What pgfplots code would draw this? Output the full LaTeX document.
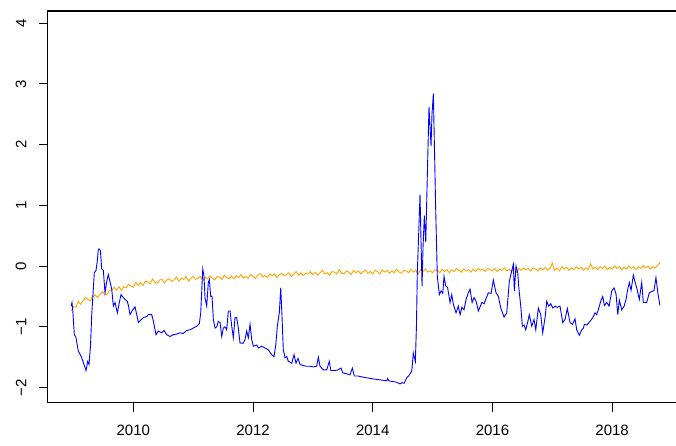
\documentclass[border=0pt]{standalone}
\usepackage{fontspec}
\setmainfont{Liberation Sans}
\usepackage{pgfplots}
\pgfplotsset{compat=1.18}
\usetikzlibrary{calc}
\definecolor{rblue}{RGB}{0,0,255}
\definecolor{rorange}{RGB}{255,165,0}
\begin{document}
\fontsize{15}{18}\selectfont
\begin{tikzpicture}
\begin{axis}[name=ax, at={(0,0)}, anchor=south west,
  scale only axis, width=636.1pt, height=391.7pt,
  xmin=2008.566, xmax=2019.194, ymin=-2.25, ymax=4.2,
  axis line style={line width=1pt},
  xtick={2010,2012,2014,2016,2018},
  xticklabels={2010,2012,2014,2016,2018},
  ytick={-2,-1,0,1,2,3,4},
  yticklabels={−2,−1,0,1,2,3,4},
  tick align=outside, major tick length=9pt,
  tick style={black, line width=0.8pt},
  xtick pos=left, ytick pos=left,
  /pgf/number format/assume math mode=true,
  xticklabel style={anchor=north, inner sep=0pt},
  yticklabel style={rotate=90, anchor=south, inner sep=0pt},
  xticklabel shift=13pt, yticklabel shift=12pt,
]
\addplot[rorange, line width=0.9pt] coordinates {
(2008.96,-0.74)(2009.00,-0.67)(2009.04,-0.68)(2009.08,-0.58)(2009.12,-0.63)(2009.16,-0.57)(2009.20,-0.52)(2009.24,-0.55)(2009.28,-0.57)(2009.32,-0.50)
(2009.36,-0.47)(2009.40,-0.52)(2009.44,-0.47)(2009.48,-0.42)(2009.52,-0.46)(2009.56,-0.47)(2009.60,-0.40)(2009.64,-0.39)(2009.68,-0.35)(2009.72,-0.40)
(2009.76,-0.34)(2009.80,-0.40)(2009.84,-0.34)(2009.88,-0.36)(2009.92,-0.30)(2009.96,-0.33)(2010.00,-0.35)(2010.04,-0.27)(2010.08,-0.32)(2010.12,-0.27)
(2010.16,-0.32)(2010.20,-0.25)(2010.24,-0.26)(2010.28,-0.29)(2010.32,-0.21)(2010.36,-0.27)(2010.40,-0.28)(2010.44,-0.23)(2010.48,-0.22)(2010.52,-0.28)
(2010.56,-0.23)(2010.60,-0.21)(2010.64,-0.25)(2010.68,-0.23)(2010.72,-0.18)(2010.76,-0.25)(2010.80,-0.20)(2010.84,-0.22)(2010.88,-0.17)(2010.92,-0.25)
(2010.96,-0.20)(2011.00,-0.17)(2011.04,-0.22)(2011.08,-0.20)(2011.12,-0.17)(2011.16,-0.24)(2011.20,-0.18)(2011.24,-0.21)(2011.28,-0.16)(2011.32,-0.20)
(2011.36,-0.23)(2011.40,-0.17)(2011.44,-0.18)(2011.48,-0.22)(2011.52,-0.15)(2011.56,-0.19)(2011.60,-0.21)(2011.64,-0.16)(2011.68,-0.21)(2011.72,-0.16)
(2011.76,-0.19)(2011.80,-0.14)(2011.84,-0.20)(2011.88,-0.17)(2011.92,-0.20)(2011.96,-0.14)(2012.00,-0.17)(2012.04,-0.20)(2012.08,-0.15)(2012.12,-0.12)
(2012.16,-0.18)(2012.20,-0.15)(2012.24,-0.19)(2012.28,-0.13)(2012.32,-0.16)(2012.36,-0.13)(2012.40,-0.19)(2012.44,-0.14)(2012.48,-0.12)(2012.52,-0.16)
(2012.56,-0.14)(2012.60,-0.11)(2012.64,-0.17)(2012.68,-0.13)(2012.72,-0.09)(2012.76,-0.15)(2012.80,-0.11)(2012.84,-0.16)(2012.88,-0.12)(2012.92,-0.13)
(2012.96,-0.09)(2013.00,-0.14)(2013.04,-0.10)(2013.08,-0.15)(2013.12,-0.11)(2013.16,-0.07)(2013.20,-0.13)(2013.24,-0.11)(2013.28,-0.15)(2013.32,-0.09)
(2013.36,-0.10)(2013.40,-0.13)(2013.44,-0.06)(2013.48,-0.12)(2013.52,-0.13)(2013.56,-0.08)(2013.60,-0.10)(2013.64,-0.14)(2013.68,-0.07)(2013.72,-0.11)
(2013.76,-0.08)(2013.80,-0.13)(2013.84,-0.09)(2013.88,-0.07)(2013.92,-0.12)(2013.96,-0.09)(2014.00,-0.13)(2014.04,-0.07)(2014.08,-0.09)(2014.12,-0.13)
(2014.16,-0.06)(2014.20,-0.10)(2014.24,-0.07)(2014.28,-0.12)(2014.32,-0.08)(2014.36,-0.11)(2014.40,-0.05)(2014.44,-0.10)(2014.48,-0.12)(2014.52,-0.07)
(2014.56,-0.08)(2014.60,-0.11)(2014.64,-0.05)(2014.68,-0.10)(2014.72,-0.07)(2014.76,-0.13)(2014.80,-0.06)(2014.84,-0.09)(2014.88,-0.05)(2014.92,-0.10)
(2014.96,-0.08)(2015.00,-0.11)(2015.04,-0.06)(2015.08,-0.07)(2015.12,-0.11)(2015.16,-0.05)(2015.20,-0.09)(2015.24,-0.06)(2015.28,-0.11)(2015.32,-0.06)
(2015.36,-0.09)(2015.40,-0.04)(2015.44,-0.07)(2015.48,-0.10)(2015.52,-0.05)(2015.56,-0.08)(2015.60,-0.06)(2015.64,-0.10)(2015.68,-0.05)(2015.72,-0.09)
(2015.76,-0.04)(2015.80,-0.07)(2015.84,-0.05)(2015.88,-0.09)(2015.92,-0.04)(2015.96,-0.06)(2016.00,-0.08)(2016.04,-0.04)(2016.08,-0.09)(2016.12,-0.05)
(2016.16,-0.07)(2016.20,-0.03)(2016.24,-0.08)(2016.28,-0.05)(2016.32,-0.09)(2016.36,-0.03)(2016.40,-0.10)(2016.44,-0.04)(2016.48,-0.07)(2016.52,-0.03)
(2016.56,-0.06)(2016.60,-0.04)(2016.64,-0.08)(2016.68,-0.03)(2016.72,-0.05)(2016.76,-0.08)(2016.80,-0.03)(2016.84,-0.06)(2016.88,-0.02)(2016.92,-0.07)
(2016.96,-0.04)(2017.00,0.05)(2017.04,-0.07)(2017.08,-0.03)(2017.12,-0.08)(2017.16,-0.01)(2017.20,-0.05)(2017.24,-0.02)(2017.28,-0.07)(2017.32,-0.03)
(2017.36,-0.06)(2017.40,-0.01)(2017.44,-0.05)(2017.48,-0.02)(2017.52,-0.07)(2017.56,-0.03)(2017.60,-0.06)(2017.64,0.04)(2017.68,-0.05)(2017.72,-0.02)
(2017.76,-0.06)(2017.80,-0.01)(2017.84,-0.04)(2017.88,0.00)(2017.92,-0.06)(2017.96,-0.02)(2018.00,-0.05)(2018.04,0.00)(2018.08,-0.04)(2018.12,-0.01)
(2018.16,-0.06)(2018.20,-0.02)(2018.24,-0.05)(2018.28,0.00)(2018.32,-0.04)(2018.36,-0.01)(2018.40,-0.06)(2018.44,-0.01)(2018.48,-0.04)(2018.52,0.01)
(2018.56,-0.03)(2018.60,0.00)(2018.64,-0.05)(2018.68,-0.01)(2018.72,-0.03)(2018.76,0.01)(2018.80,0.06)
};
\addplot[rblue, line width=0.9pt] coordinates {
(2008.960,-0.66)(2008.975,-0.60)(2008.990,-0.75)(2009.014,-1.13)(2009.040,-1.17)(2009.081,-1.40)(2009.110,-1.45)(2009.138,-1.51)(2009.168,-1.60)(2009.210,-1.72)
(2009.238,-1.57)(2009.260,-1.62)(2009.285,-1.30)(2009.305,-0.80)(2009.327,-0.45)(2009.348,-0.11)(2009.377,-0.07)(2009.400,0.10)(2009.415,0.28)(2009.435,0.28)
(2009.450,0.25)(2009.472,-0.05)(2009.499,-0.07)(2009.527,-0.44)(2009.556,-0.25)(2009.582,-0.14)(2009.611,-0.26)(2009.639,-0.38)(2009.666,-0.66)(2009.694,-0.60)
(2009.733,-0.77)(2009.766,-0.60)(2009.794,-0.47)(2009.833,-0.52)(2009.861,-0.55)(2009.900,-0.58)(2009.920,-0.66)(2009.945,-0.80)(2009.990,-0.72)(2010.028,-0.67)
(2010.057,-0.80)(2010.084,-0.93)(2010.112,-0.90)(2010.167,-0.85)(2010.224,-0.83)(2010.250,-0.80)(2010.307,-0.80)(2010.334,-0.90)(2010.379,-1.13)(2010.418,-1.07)
(2010.475,-1.10)(2010.513,-1.06)(2010.558,-1.13)(2010.613,-1.16)(2010.668,-1.13)(2010.725,-1.12)(2010.780,-1.10)(2010.835,-1.11)(2010.892,-1.06)(2010.947,-1.05)
(2011.003,-1.02)(2011.059,-0.99)(2011.103,-0.95)(2011.126,-0.77)(2011.160,-0.05)(2011.180,-0.16)(2011.198,-0.52)(2011.226,-0.66)(2011.253,-0.27)(2011.270,-0.22)
(2011.293,-0.50)(2011.315,-0.50)(2011.337,-0.88)(2011.365,-1.02)(2011.394,-1.00)(2011.420,-0.91)(2011.449,-0.93)(2011.477,-1.16)(2011.504,-1.02)(2011.532,-1.00)
(2011.560,-1.05)(2011.587,-0.74)(2011.616,-0.74)(2011.644,-0.99)(2011.671,-1.18)(2011.699,-0.85)(2011.727,-0.85)(2011.754,-1.02)(2011.783,-1.27)(2011.838,-1.27)
(2011.866,-1.21)(2011.894,-1.07)(2011.921,-1.18)(2011.950,-0.96)(2011.978,-1.21)(2012.005,-1.32)(2012.062,-1.30)(2012.089,-1.35)(2012.145,-1.32)(2012.200,-1.35)
(2012.256,-1.38)(2012.312,-1.46)(2012.351,-1.49)(2012.380,-1.30)(2012.406,-0.99)(2012.439,-0.77)(2012.463,-0.36)(2012.485,-0.85)(2012.506,-1.38)(2012.535,-1.51)
(2012.563,-1.49)(2012.590,-1.57)(2012.618,-1.58)(2012.647,-1.60)(2012.685,-1.46)(2012.718,-1.60)(2012.752,-1.52)(2012.785,-1.62)(2012.840,-1.64)(2012.897,-1.65)
(2012.952,-1.65)(2013.008,-1.66)(2013.064,-1.65)(2013.091,-1.50)(2013.119,-1.65)(2013.175,-1.71)(2013.231,-1.71)(2013.274,-1.57)(2013.300,-1.72)(2013.370,-1.72)
(2013.420,-1.71)(2013.470,-1.68)(2013.499,-1.76)(2013.550,-1.77)(2013.621,-1.79)(2013.659,-1.68)(2013.693,-1.81)(2013.750,-1.81)(2013.843,-1.83)(2013.900,-1.84)
(2013.955,-1.85)(2014.020,-1.86)(2014.094,-1.87)(2014.170,-1.88)(2014.234,-1.89)(2014.250,-1.85)(2014.270,-1.89)(2014.320,-1.90)(2014.390,-1.91)(2014.456,-1.94)
(2014.490,-1.92)(2014.523,-1.93)(2014.568,-1.84)(2014.606,-1.80)(2014.652,-1.73)(2014.678,-1.43)(2014.712,-1.57)(2014.730,-1.00)(2014.745,-0.11)(2014.770,0.60)
(2014.790,1.18)(2014.807,0.40)(2014.824,-0.33)(2014.840,0.30)(2014.862,0.83)(2014.886,0.39)(2014.912,1.49)(2014.940,2.62)(2014.957,2.30)(2014.974,1.98)
(2014.990,2.50)(2015.013,2.84)(2015.030,2.00)(2015.053,0.88)(2015.079,-0.17)(2015.113,-0.47)(2015.141,-0.41)(2015.170,-0.45)(2015.191,-0.17)(2015.220,-0.33)
(2015.250,-0.35)(2015.292,-0.60)(2015.320,-0.47)(2015.347,-0.63)(2015.392,-0.77)(2015.430,-0.66)(2015.459,-0.80)(2015.490,-0.68)(2015.525,-0.72)(2015.559,-0.55)
(2015.597,-0.44)(2015.626,-0.38)(2015.660,-0.60)(2015.693,-0.52)(2015.727,-0.58)(2015.765,-0.74)(2015.822,-0.60)(2015.860,-0.62)(2015.931,-0.44)(2015.977,-0.45)
(2016.015,-0.23)(2016.060,-0.44)(2016.099,-0.50)(2016.139,-0.69)(2016.194,-0.84)(2016.239,-0.77)(2016.282,-0.25)(2016.322,-0.08)(2016.349,0.03)(2016.366,-0.41)
(2016.394,0.00)(2016.423,-0.11)(2016.440,-0.35)(2016.473,-0.66)(2016.500,-0.99)(2016.528,-0.97)(2016.556,-1.05)(2016.590,-0.92)(2016.616,-0.80)(2016.657,-0.99)
(2016.695,-0.88)(2016.724,-1.05)(2016.767,-0.69)(2016.807,-0.80)(2016.840,-1.10)(2016.879,-0.85)(2016.907,-0.58)(2016.940,-0.66)(2016.974,-0.62)(2017.007,-0.69)
(2017.046,-0.66)(2017.084,-0.68)(2017.129,-0.66)(2017.175,-0.93)(2017.213,-0.88)(2017.251,-0.70)(2017.297,-0.93)(2017.335,-0.96)(2017.380,-0.87)(2017.408,-1.05)
(2017.452,-1.14)(2017.492,-1.05)(2017.520,-1.02)(2017.536,-0.96)(2017.580,-0.97)(2017.631,-0.91)(2017.676,-0.85)(2017.714,-0.77)(2017.740,-0.80)(2017.769,-0.72)
(2017.809,-0.58)(2017.843,-0.50)(2017.870,-0.65)(2017.910,-0.60)(2017.949,-0.66)(2017.993,-0.41)(2018.032,-0.36)(2018.065,-0.46)(2018.094,-0.80)(2018.120,-0.56)
(2018.160,-0.72)(2018.200,-0.66)(2018.232,-0.55)(2018.261,-0.38)(2018.287,-0.27)(2018.316,-0.40)(2018.354,-0.15)(2018.380,-0.25)(2018.411,-0.36)(2018.454,-0.55)
(2018.494,-0.27)(2018.521,-0.60)(2018.578,-0.60)(2018.621,-0.44)(2018.661,-0.42)(2018.700,-0.40)(2018.732,-0.19)(2018.772,-0.50)(2018.800,-0.65)
};
\end{axis}
\pgfresetboundingbox
\path[use as bounding box] ($(ax.south west)+(-47.5pt,-42.3pt)$) rectangle ($(ax.south west)+(628.5pt,402.7pt)$);
\end{tikzpicture}
\end{document}
